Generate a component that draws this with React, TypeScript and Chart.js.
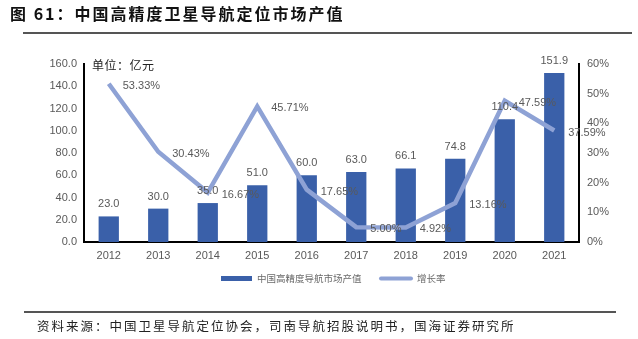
import React, { useEffect, useRef } from "react";
import { Chart, registerables } from "chart.js";

Chart.register(...registerables);

const years = ["2012", "2013", "2014", "2015", "2016", "2017", "2018", "2019", "2020", "2021"];
const marketValue = [23.0, 30.0, 35.0, 51.0, 60.0, 63.0, 66.1, 74.8, 110.4, 151.9];
const growthRate = [53.33, 30.43, 16.67, 45.71, 17.65, 5.0, 4.92, 13.16, 47.59, 37.59];

const titleText = "图 61：中国高精度卫星导航定位市场产值";
const unitText = "单位：亿元";
const sourceText = "资料来源：中国卫星导航定位协会，司南导航招股说明书，国海证券研究所";
const barLabel = "中国高精度导航市场产值";
const lineLabel = "增长率";

const BAR_COLOR = "#3A60A9";
const LINE_COLOR = "#8EA2D5";
const TEXT_GRAY = "#595959";
const LATIN = "'Liberation Sans', Arial, sans-serif";
const CJK = "'Noto Sans CJK SC', sans-serif";

const decorPlugin = {
  id: "decor",
  afterDraw(chart: any) {
    const ctx = chart.ctx;
    ctx.save();
    // title
    ctx.fillStyle = "#111";
    ctx.font = `bold 16px ${CJK}`;
    ctx.textBaseline = "middle";
    ctx.textAlign = "left";
    (ctx as any).letterSpacing = "2px";
    ctx.fillText(titleText, 10, 14);
    (ctx as any).letterSpacing = "0px";
    // title rule
    ctx.strokeStyle = "#555";
    ctx.lineWidth = 2;
    ctx.beginPath();
    ctx.moveTo(23, 33);
    ctx.lineTo(632, 33);
    ctx.stroke();
    // source rule
    ctx.beginPath();
    ctx.moveTo(24, 312);
    ctx.lineTo(616, 312);
    ctx.stroke();
    // source text
    ctx.fillStyle = "#222";
    ctx.font = `12.5px ${CJK}`;
    (ctx as any).letterSpacing = "2px";
    ctx.fillText(sourceText, 37, 326);
    // unit
    ctx.font = `12px ${CJK}`;
    (ctx as any).letterSpacing = "0.5px";
    ctx.fillStyle = "#222";
    ctx.fillText(unitText, 92, 65);
    (ctx as any).letterSpacing = "0px";

    // bar value labels
    const barMeta = chart.getDatasetMeta(0);
    ctx.font = `11px ${LATIN}`;
    ctx.fillStyle = TEXT_GRAY;
    ctx.textAlign = "center";
    barMeta.data.forEach((el: any, i: number) => {
      ctx.fillText(marketValue[i].toFixed(1), el.x, el.y - 12);
    });
    // line labels
    const lineMeta = chart.getDatasetMeta(1);
    ctx.textAlign = "left";
    lineMeta.data.forEach((el: any, i: number) => {
      ctx.fillText(growthRate[i].toFixed(2) + "%", el.x + 14, el.y + 2);
    });

    // legend
    ctx.fillStyle = BAR_COLOR;
    ctx.fillRect(221, 276, 31, 5);
    ctx.strokeStyle = LINE_COLOR;
    ctx.lineWidth = 4;
    ctx.lineCap = "round";
    ctx.beginPath();
    ctx.moveTo(381, 278.5);
    ctx.lineTo(411, 278.5);
    ctx.stroke();
    ctx.fillStyle = "#6a6a6a";
    ctx.font = `9.5px ${CJK}`;
    ctx.fillText(barLabel, 257, 278.5);
    ctx.fillText(lineLabel, 417, 278.5);
    ctx.restore();
  },
};

export default function App() {
  const ref = useRef<HTMLCanvasElement | null>(null);
  useEffect(() => {
    if (!ref.current) return;
    const chart = new Chart(ref.current, {
      type: "bar",
      data: {
        labels: years,
        datasets: [
          {
            type: "bar",
            label: barLabel,
            data: marketValue,
            backgroundColor: BAR_COLOR,
            borderWidth: 0,
            barPercentage: 0.41,
            categoryPercentage: 1,
            yAxisID: "y",
            order: 2,
          },
          {
            type: "line",
            label: lineLabel,
            data: growthRate,
            borderColor: LINE_COLOR,
            borderWidth: 4.5,
            pointRadius: 0,
            tension: 0,
            yAxisID: "y1",
            order: 1,
          } as any,
        ],
      },
      options: {
        responsive: false,
        animation: false,
        devicePixelRatio: 1,
        layout: { padding: { left: 0, right: 0, top: 64, bottom: 0 } },
        plugins: { legend: { display: false }, tooltip: { enabled: false }, title: { display: false } },
        scales: {
          x: {
            grid: { display: false, drawTicks: false },
            border: { display: true, color: "#000", width: 2 },
            ticks: { color: TEXT_GRAY, font: { family: LATIN, size: 11 }, padding: 7 },
            afterFit(scale: any) {
              scale.height = 97;
            },
          },
          y: {
            position: "left",
            min: 0,
            max: 160,
            grid: { display: false, drawTicks: false },
            border: { display: true, color: "#000", width: 2 },
            ticks: {
              stepSize: 20,
              color: TEXT_GRAY,
              font: { family: LATIN, size: 11 },
              padding: 7,
              callback: (v: any) => Number(v).toFixed(1),
            },
            afterFit(scale: any) {
              scale.width = 84;
            },
          },
          y1: {
            position: "right",
            min: 0,
            max: 60,
            grid: { display: false, drawTicks: false },
            border: { display: true, color: "#000", width: 2 },
            ticks: {
              stepSize: 10,
              color: TEXT_GRAY,
              font: { family: LATIN, size: 11 },
              padding: 8,
              callback: (v: any) => v + "%",
            },
            afterFit(scale: any) {
              scale.width = 59;
            },
          },
        },
      },
      plugins: [decorPlugin],
    });
    return () => chart.destroy();
  }, []);
  return (
    <div style={{ position: "fixed", left: 0, top: 0, width: 638, height: 339, background: "#fff" }}>
      <canvas ref={ref} width={638} height={339} style={{ display: "block", width: 638, height: 339 }} />
    </div>
  );
}
